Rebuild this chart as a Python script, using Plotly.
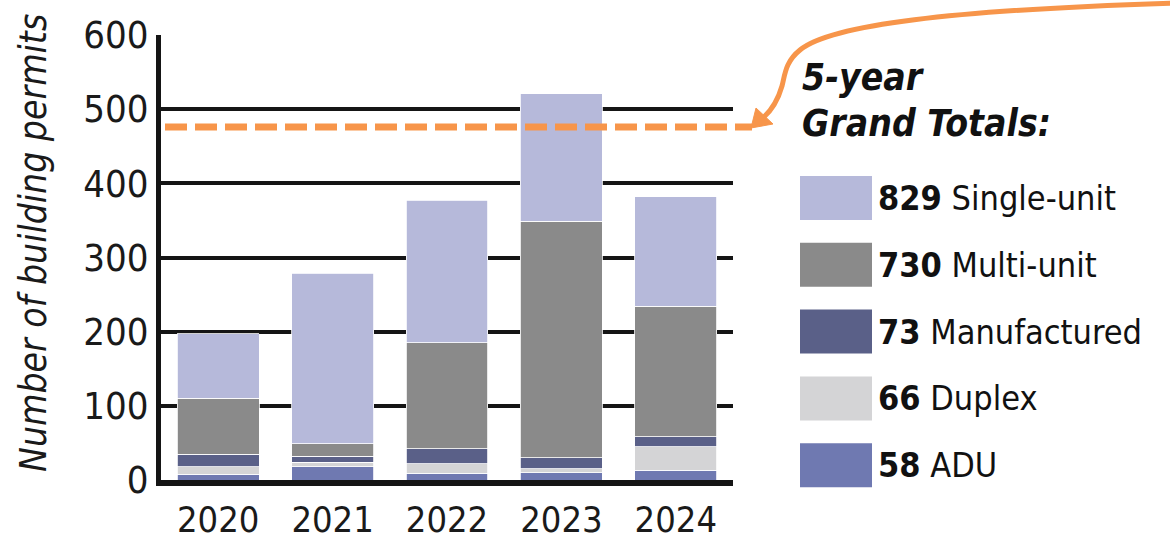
import plotly.graph_objects as go

# Building permits issued per year, by housing type
years = ["2020", "2021", "2022", "2023", "2024"]
adu = [8, 18, 9, 10, 13]
duplex = [10, 6, 13, 5, 32]
manufactured = [17, 8, 20, 15, 13]
multi_unit = [75, 17, 143, 319, 176]
single_unit = [87, 230, 192, 172, 148]

series_names = ["ADU", "Duplex", "Manufactured", "Multi-unit", "Single-unit"]
series_values = [adu, duplex, manufactured, multi_unit, single_unit]
series_colors = ["#6f79b1", "#d4d4d6", "#5a6088", "#8a8a8a", "#b6b9da"]

reference_level = 476
y_ticks = [0, 100, 200, 300, 400, 500, 600]
y_max = 600

FONT = "DejaVu Sans Condensed, Roboto, sans-serif"
ORANGE = "#f7954a"

W, H = 1170, 545
L, R, T, B = 161, 437, 35, 65
PW, PH = W - L - R, H - T - B


def px(x):
    return (x - L) / PW


def py(y):
    return (H - B - y) / PH


fig = go.Figure()
for name, vals, col in zip(series_names, series_values, series_colors):
    fig.add_trace(go.Bar(
        x=years, y=vals, name=name,
        marker=dict(color=col, line=dict(color="white", width=0.8)),
        showlegend=False,
    ))

shapes = []
# dashed reference line, running past the plot toward the arrow
shapes.append(dict(
    type="line", xref="paper", yref="paper",
    x0=px(165), x1=px(752), y0=reference_level / y_max, y1=reference_level / y_max,
    line=dict(color=ORANGE, width=7, dash="22px,8px"),
))
# curved arrow linking the totals panel to the dashed line
pts = [(1175, 3), (950, 10), (830, 25), (800, 50), (785, 62), (785, 75), (782, 86),
       (778, 100), (772, 110), (763, 118)]
path = "M {},{} ".format(px(pts[0][0]), py(pts[0][1]))
for i in range(1, len(pts), 3):
    c = pts[i:i + 3]
    path += "C " + " ".join("{},{}".format(px(a), py(b)) for a, b in c) + " "
shapes.append(dict(type="path", xref="paper", yref="paper", path=path,
                   line=dict(color=ORANGE, width=5)))
tri = [(751, 128), (756, 108), (773, 124)]
shapes.append(dict(
    type="path", xref="paper", yref="paper",
    path="M {},{} L {},{} L {},{} Z".format(*[v for p_ in tri for v in (px(p_[0]), py(p_[1]))]),
    fillcolor=ORANGE, line=dict(color=ORANGE, width=1),
))

annotations = []
# y-axis title
annotations.append(dict(
    text="<i>Number of building permits</i>", xref="paper", yref="paper",
    x=px(34), y=py(243), textangle=-90, showarrow=False,
    font=dict(family=FONT, size=37, color="#1a1a1a"),
    xanchor="center", yanchor="middle",
))
# totals heading
annotations.append(dict(
    text="<b><i>5-year</i></b>", xref="paper", yref="paper",
    x=px(800), y=py(78), showarrow=False, xanchor="left", yanchor="middle",
    font=dict(family=FONT, size=37, color="#111111"),
))
annotations.append(dict(
    text="<b><i>Grand Totals:</i></b>", xref="paper", yref="paper",
    x=px(800), y=py(124), showarrow=False, xanchor="left", yanchor="middle",
    font=dict(family=FONT, size=37, color="#111111"),
))

# legend swatches with grand totals, top row is Single-unit
legend_rows = list(zip(series_names, series_values, series_colors))[::-1]
for i, (name, vals, col) in enumerate(legend_rows):
    yc = 198 + i * 66.8
    shapes.append(dict(
        type="rect", xref="paper", yref="paper",
        x0=px(800), x1=px(872), y0=py(yc - 22), y1=py(yc + 22),
        fillcolor=col, line=dict(width=0),
    ))
    annotations.append(dict(
        text="<b>{}</b> {}".format(sum(vals), name), xref="paper", yref="paper",
        x=px(876), y=py(yc), showarrow=False, xanchor="left", yanchor="middle",
        font=dict(family=FONT, size=34, color="#111111"),
    ))

fig.update_layout(
    width=W, height=H,
    margin=dict(l=L, r=R, t=T, b=B),
    barmode="stack", bargap=0.284,
    plot_bgcolor="white", paper_bgcolor="white",
    font=dict(family=FONT, color="#1a1a1a"),
    shapes=shapes, annotations=annotations,
    xaxis=dict(
        showline=True, linecolor="#151515", linewidth=6,
        showgrid=False, ticks="", tickfont=dict(size=36, family=FONT),
        ticklabelstandoff=3, automargin=False,
    ),
    yaxis=dict(
        range=[0, y_max], tickvals=y_ticks, showline=True, linecolor="#151515",
        linewidth=5, showgrid=True, gridcolor="#151515", gridwidth=4,
        zeroline=False, ticks="", tickfont=dict(size=38, family=FONT),
        ticklabelstandoff=0, automargin=False,
    ),
)

fig.write_html("out.html")
